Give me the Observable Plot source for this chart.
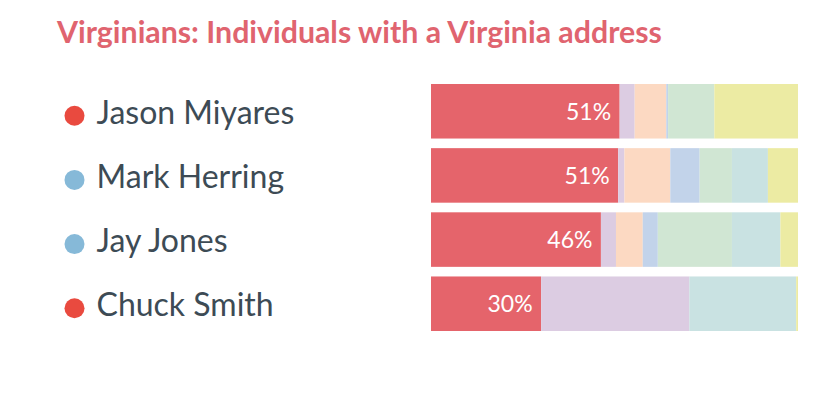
<!DOCTYPE html>
<html>
<head>
<meta charset="utf-8">
<script src="https://cdn.jsdelivr.net/npm/d3@7"></script>
<script src="https://cdn.jsdelivr.net/npm/@observablehq/plot@0.6"></script>
<style>
  html, body { margin: 0; padding: 0; background: #fff; }
  #title { height: 60px; box-sizing: border-box; padding: 16px 0 0 57px; font: 700 30.3px/1 Lato, sans-serif; color: #e0646f; white-space: nowrap; }
  #chart svg { display: block; }
</style>
</head>
<body>
<div id="title">Virginians: Individuals with a Virginia address</div>
<div id="chart"></div>
<script>
const candidates = ["Jason Miyares", "Mark Herring", "Jay Jones", "Chuck Smith"];
const party = ["R", "D", "D", "R"];
const segments = ["Virginians", "Seg B", "Seg C", "Seg D", "Seg E", "Seg F", "Seg G"];
const segmentColors = ["#e5646b", "#dccce2", "#fcd9c2", "#c2d3ea", "#d0e6d3", "#c9e2e2", "#eceba3"];
// percent share per candidate, in segment order
const miyares = [51.4, 4.1, 8.6, 0.5, 12.6, 0, 22.8];
const herring = [51.0, 1.7, 12.5, 8.0, 8.8, 9.8, 8.2];
const jones   = [46.3, 4.1, 7.3, 4.1, 20.2, 13.2, 4.8];
const smith   = [30.0, 40.4, 0, 0, 0, 29.1, 0.5];
const partyColors = {R: "#e94a3f", D: "#86b9d8"};

const shares = [miyares, herring, jones, smith];
const rows = [];
candidates.forEach((c, i) => segments.forEach((s, j) => rows.push({candidate: c, segment: s, value: shares[i][j]})));
const people = candidates.map((c, i) => ({candidate: c, party: party[i], pct: shares[i][0]}));

const chart = Plot.plot({
  width: 828,
  height: 338,
  marginTop: 24,
  marginBottom: 67,
  marginLeft: 431,
  marginRight: 30,
  style: {fontFamily: "Lato, sans-serif", background: "transparent"},
  x: {domain: [0, 100], axis: null},
  y: {domain: candidates, axis: null, paddingInner: 0.15, paddingOuter: 0, round: false},
  color: {domain: segments, range: segmentColors},
  marks: [
    Plot.barX(rows, Plot.stackX({x: "value", y: "candidate", fill: "segment", order: segments})),
    Plot.text(people, {x: "pct", y: "candidate", text: d => Math.round(d.pct) + "%", textAnchor: "end", dx: -9, dy: 0.5, fill: "white", fontSize: 23}),
    Plot.dot(people, {y: "candidate", frameAnchor: "left", dx: -357, dy: 4, r: 10, fill: d => partyColors[d.party], stroke: null}),
    Plot.text(people, {y: "candidate", text: "candidate", frameAnchor: "left", dx: -335, dy: 1.5, textAnchor: "start", fontSize: 32, fill: "#3d4b55"})
  ]
});
document.getElementById("chart").appendChild(chart);
</script>
</body>
</html>
